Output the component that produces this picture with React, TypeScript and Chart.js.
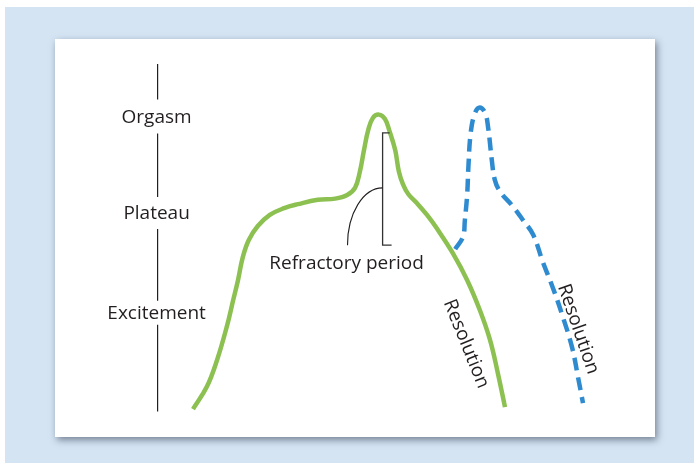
import React, { useEffect, useRef } from 'react';
import { Chart, registerables } from 'chart.js';

Chart.register(...registerables);

// First response curve (time, arousal level)
const firstTime = [23.0, 25.3, 27.0, 28.7, 29.7, 30.5, 31.3, 32.3, 33.8, 35.8, 38.2, 40.5, 43.8, 46.7, 48.7, 50.0, 50.8, 51.5, 52.2, 53.0, 54.0, 55.0, 55.7, 56.7, 57.3, 58.0, 58.9, 60.3, 62.0, 63.6, 66.3, 68.7, 70.8, 72.5, 73.8, 75.0];
const firstLevel = [7.0, 12.6, 19.3, 28.1, 34.4, 39.4, 45.2, 49.5, 53.0, 55.8, 57.5, 58.5, 59.6, 59.9, 60.8, 62.6, 66.6, 72.1, 77.1, 80.2, 81.0, 79.9, 77.1, 72.1, 66.8, 63.5, 61.0, 58.8, 55.8, 52.5, 46.2, 39.4, 31.9, 24.4, 16.1, 7.5];

// Second response curve (dashed)
const secondTime = [66.7, 68.0, 68.3, 68.7, 68.9, 69.3, 70.0, 70.8, 71.7, 72.2, 72.8, 73.3, 74.2, 76.1, 78.0, 79.7, 81.3, 83.0, 84.7, 86.2, 87.2, 88.0];
const secondLevel = [47.2, 50.3, 54.3, 61.0, 67.9, 76.6, 81.4, 82.8, 81.4, 77.6, 69.6, 64.6, 61.6, 58.3, 54.5, 50.8, 44.0, 37.4, 29.9, 22.4, 14.8, 8.5];

// Stage axis
const stageLabels = ['Orgasm', 'Plateau', 'Excitement'];
const stageLevels = [80.5, 56.3, 31.2];
const stageAxisTime = 17.1;
const stageAxisRange = [6.4, 93.7];

// Refractory period annotation
const refractoryLabel = 'Refractory period';
const refractoryTime = 54.6;
const refractoryRange = [48.2, 76.4];
const refractoryArcStart = [48.75, 48.2];
const refractoryArcEnd = [54.6, 62.6];
const refractoryLabelPos = [48.6, 43.6];

// Resolution labels
const resolutionLabel = 'Resolution';
const resolutionTimes = [68.5, 87.2];
const resolutionLevels = [23.4, 27.1];
const resolutionAngles = [68, 71];

const GREEN = '#8cc152';
const BLUE = '#2f8bd0';
const INK = '#231f20';
const FONT = '19px "Open Sans", sans-serif';

const annotations = {
  id: 'annotations',
  afterDatasetsDraw(chart: any) {
    const { ctx } = chart;
    const xs = chart.scales.x;
    const ys = chart.scales.y;
    const px = (v: number) => xs.getPixelForValue(v);
    const py = (v: number) => ys.getPixelForValue(v);
    ctx.save();
    ctx.font = FONT;
    ctx.fillStyle = INK;
    ctx.strokeStyle = INK;
    ctx.textAlign = 'center';
    ctx.textBaseline = 'middle';

    // stage axis with labels interrupting it
    const ax = px(stageAxisTime);
    const gaps = [17, 16, 12];
    const breaks: number[] = [py(stageAxisRange[1])];
    stageLevels.forEach((lv, i) => {
      breaks.push(py(lv) - gaps[i]);
      breaks.push(py(lv) + gaps[i]);
    });
    breaks.push(py(stageAxisRange[0]));
    ctx.lineWidth = 1.2;
    for (let i = 0; i < breaks.length; i += 2) {
      ctx.beginPath();
      ctx.moveTo(ax, breaks[i]);
      ctx.lineTo(ax, breaks[i + 1]);
      ctx.stroke();
    }
    stageLabels.forEach((t, i) => {
      ctx.fillText(t, ax - 1, py(stageLevels[i]) + 0.5);
    });

    // refractory bracket
    const bx = px(refractoryTime);
    const bt = py(refractoryRange[1]);
    const bb = py(refractoryRange[0]);
    ctx.strokeStyle = '#333';
    ctx.lineWidth = 1.3;
    ctx.beginPath();
    ctx.moveTo(bx + 7, bt);
    ctx.lineTo(bx, bt);
    ctx.lineTo(bx, bb);
    ctx.lineTo(bx + 9, bb);
    ctx.stroke();
    // arc
    const ax0 = px(refractoryArcStart[0]);
    const ay0 = py(refractoryArcStart[1]);
    const ax1 = px(refractoryArcEnd[0]);
    const ay1 = py(refractoryArcEnd[1]);
    ctx.lineWidth = 1.1;
    ctx.strokeStyle = INK;
    ctx.beginPath();
    ctx.ellipse(ax1, ay0, ax1 - ax0, ay0 - ay1, 0, Math.PI, Math.PI * 1.5);
    ctx.stroke();

    ctx.fillText(refractoryLabel, px(refractoryLabelPos[0]), py(refractoryLabelPos[1]));

    // resolution labels
    resolutionTimes.forEach((t, i) => {
      ctx.save();
      ctx.translate(px(t), py(resolutionLevels[i]));
      ctx.rotate((resolutionAngles[i] * Math.PI) / 180);
      ctx.fillText(resolutionLabel, 0, 0);
      ctx.restore();
    });
    ctx.restore();
  },
};

export default function App() {
  const ref = useRef<HTMLCanvasElement>(null);
  useEffect(() => {
    if (!ref.current) return;
    const chart = new Chart(ref.current, {
      type: 'line',
      data: {
        datasets: [
          {
            data: firstTime.map((x, i) => ({ x, y: firstLevel[i] })),
            borderColor: GREEN,
            borderWidth: 4.5,
            pointRadius: 0,
            tension: 0.4,
            fill: false,
            borderCapStyle: 'butt',
            borderJoinStyle: 'round',
          },
          {
            data: secondTime.map((x, i) => ({ x, y: secondLevel[i] })),
            borderColor: BLUE,
            borderWidth: 4.5,
            borderDash: [13, 7],
            pointRadius: 0,
            tension: 0.4,
            fill: false,
            borderCapStyle: 'butt',
            borderJoinStyle: 'round',
          },
        ],
      },
      options: {
        animation: false,
        responsive: false,
        events: [],
        layout: { padding: 0 },
        plugins: { legend: { display: false }, tooltip: { enabled: false } },
        scales: {
          x: { type: 'linear', min: 0, max: 100, display: false },
          y: { type: 'linear', min: 0, max: 100, display: false },
        },
      },
      plugins: [annotations],
    });
    return () => chart.destroy();
  }, []);

  return (
    <div style={{ position: 'fixed', left: 0, top: 0, width: 694, height: 463, background: '#fff', overflow: 'hidden' }}>
      <div style={{ position: 'absolute', left: 5, top: 7, right: 0, bottom: 0, background: '#d4e4f3' }} />
      <div
        style={{
          position: 'absolute',
          left: 55,
          top: 39,
          width: 600,
          height: 398,
          background: '#fff',
          boxShadow: '2px 3px 7px rgba(40,50,70,0.55)',
        }}
      >
        <canvas ref={ref} width={600} height={398} style={{ display: 'block', width: 600, height: 398 }} />
      </div>
    </div>
  );
}
